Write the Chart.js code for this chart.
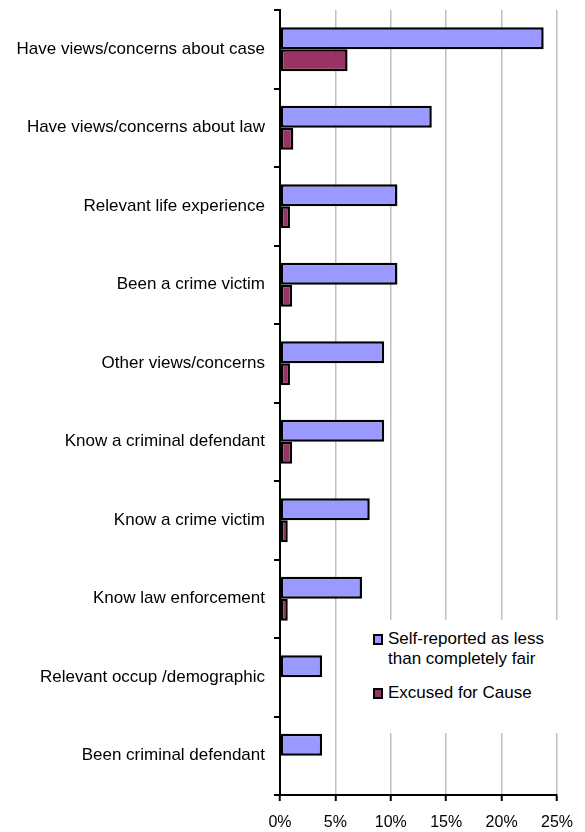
<!DOCTYPE html>
<html lang="en">
<head>
    <meta charset="UTF-8">
    <script src="https://cdn.jsdelivr.net/npm/chart.js"></script>
    <title>Reasons jurors were less than fair</title>
    <style>
        body { margin: 0; background: #fff; }
        #wrap { position: relative; width: 585px; height: 832px; }
        #legend {
            position: absolute; left: 366px; top: 620px; width: 219px; height: 113px;
            background: #fff; font-family: "Liberation Sans", Arial, sans-serif; font-size: 17px; color: #000;
        }
        .item { position: absolute; left: 22px; line-height: 20px; }
        .box { position: absolute; left: -15px; top: 5px; width: 6px; height: 7px; border: 2px solid #000; }
    </style>
</head>
<body>
<div id="wrap">
    <canvas id="myChart"></canvas>
    <div id="legend"></div>
</div>

<script>
    const categories = [
        'Have views/concerns about case',
        'Have views/concerns about law',
        'Relevant life experience',
        'Been a crime victim',
        'Other views/concerns',
        'Know a criminal defendant',
        'Know a crime victim',
        'Know law enforcement',
        'Relevant occup /demographic',
        'Been criminal defendant'
    ];
    const selfReported = [23.8, 13.7, 10.6, 10.6, 9.4, 9.4, 8.1, 7.4, 3.8, 3.8];
    const excused = [6.1, 1.2, 0.9, 1.1, 0.9, 1.1, 0.7, 0.7, 0, 0];
    const xTicks = [0, 5, 10, 15, 20, 25];
    const seriesNames = ['Self-reported as less\nthan completely fair', 'Excused for Cause'];
    const colors = ['#9999ff', '#993366'];

    const font = "'Liberation Sans', Arial, sans-serif";

    // legend sits on top of the grid, like the original
    const legend = document.getElementById('legend');
    const tops = [9, 63];
    seriesNames.forEach((name, i) => {
        const d = document.createElement('div');
        d.className = 'item';
        d.style.top = tops[i] + 'px';
        d.innerHTML = '<span class="box" style="background:' + colors[i] + '"></span>' + name.replace('\n', '<br>');
        legend.appendChild(d);
    });

    const ctx = document.getElementById('myChart');

    new Chart(ctx, {
        type: 'bar',
        data: {
            labels: categories,
            datasets: [{
                label: seriesNames[0],
                data: selfReported,
                backgroundColor: colors[0],
                borderColor: '#000',
                borderWidth: 2.5,
                borderSkipped: false
            }, {
                label: seriesNames[1],
                data: excused,
                backgroundColor: colors[1],
                borderColor: '#000',
                borderWidth: 2.5,
                borderSkipped: false
            }]
        },
        options: {
            indexAxis: 'y',
            responsive: true,
            maintainAspectRatio: false,
            animation: false,
            categoryPercentage: 0.56,
            barPercentage: 1,
            layout: { padding: { top: 10, right: 27, left: 0, bottom: 0 } },
            plugins: {
                legend: { display: false },
                tooltip: { enabled: false }
            },
            scales: {
                x: {
                    min: 0,
                    max: 25,
                    afterBuildTicks: function(scale) {
                        scale.ticks = xTicks.map(v => ({ value: v }));
                    },
                    afterFit: function(scale) { scale.height = 37; },
                    ticks: {
                        color: '#000',
                        font: { family: font, size: 16 },
                        padding: 12,
                        maxRotation: 0,
                        callback: function(value) { return value + '%'; }
                    },
                    grid: {
                        color: '#c0c0c0',
                        lineWidth: 1.5,
                        tickColor: '#000',
                        tickLength: 6,
                        tickWidth: 2
                    },
                    border: { color: '#000', width: 2 }
                },
                y: {
                    afterFit: function(scale) {
                        scale.width = 280;
                        scale.paddingTop = 0;
                        scale.paddingBottom = 0;
                    },
                    ticks: {
                        color: '#000',
                        font: { family: font, size: 17 },
                        padding: 9
                    },
                    grid: {
                        offset: true,
                        drawOnChartArea: false,
                        tickColor: '#000',
                        tickLength: 6,
                        lineWidth: 2
                    },
                    border: { color: '#000', width: 2 }
                }
            }
        }
    });
</script>
</body>
</html>
